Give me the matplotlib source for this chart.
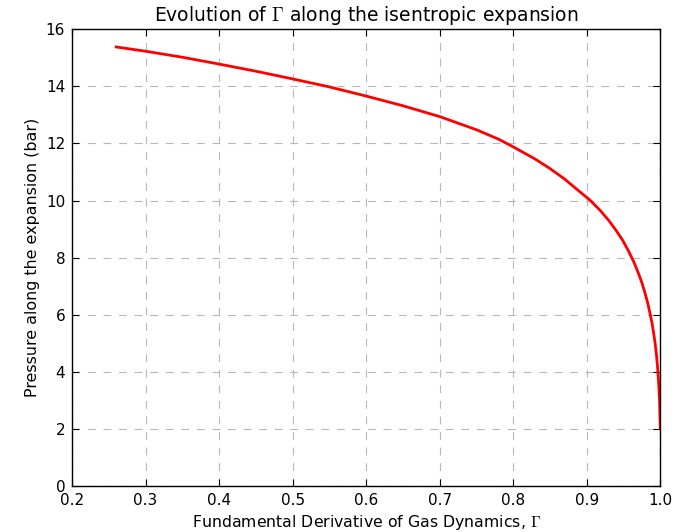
import matplotlib
matplotlib.use("Agg")
import matplotlib.pyplot as plt

plt.rcParams['mathtext.fontset'] = 'cm'

# Fundamental derivative of gas dynamics vs pressure
gamma = [0.26, 0.30, 0.35, 0.40, 0.45, 0.50, 0.55, 0.60, 0.65, 0.70,
         0.75, 0.78, 0.80, 0.83, 0.85, 0.87, 0.89, 0.905, 0.918, 0.93,
         0.94, 0.949, 0.957, 0.964, 0.970, 0.975, 0.979, 0.983, 0.986,
         0.989, 0.991, 0.993, 0.995, 0.9965, 0.998, 0.999, 0.9995, 1.0]
pressure = [15.38, 15.23, 15.02, 14.78, 14.53, 14.26, 13.98, 13.66, 13.32, 12.94,
            12.48, 12.15, 11.88, 11.45, 11.12, 10.75, 10.32, 10.0, 9.66, 9.3,
            8.95, 8.6, 8.22, 7.85, 7.47, 7.12, 6.78, 6.4, 6.05,
            5.68, 5.35, 5.0, 4.55, 4.1, 3.5, 3.0, 2.5, 2.0]

fig = plt.figure(figsize=(6.8, 5.32), dpi=100)
ax = fig.add_axes([0.106, 0.0865, 0.865, 0.8585])

ax.plot(gamma, pressure, color='red', linewidth=2)

ax.set_xlim(0.2, 1.0)
ax.set_ylim(0, 16)
ax.set_xticks([0.2, 0.3, 0.4, 0.5, 0.6, 0.7, 0.8, 0.9, 1.0])
ax.set_yticks(range(0, 17, 2))
ax.grid(True, linestyle=(0, (7, 7)), color='#b8b8b8', linewidth=0.8)
ax.tick_params(direction='in', top=True, right=True, length=5, labelsize=11, pad=5)
for s in ax.spines.values():
    s.set_linewidth(1.0)

ax.set_xlabel(r'Fundamental Derivative of Gas Dynamics, $\Gamma$', fontsize=11.3)
ax.set_ylabel('Pressure along the expansion (bar)', fontsize=11.4)
ax.set_title(r'Evolution of $\Gamma$ along the isentropic expansion', fontsize=13.5)

fig.savefig('out.png', dpi=100)
